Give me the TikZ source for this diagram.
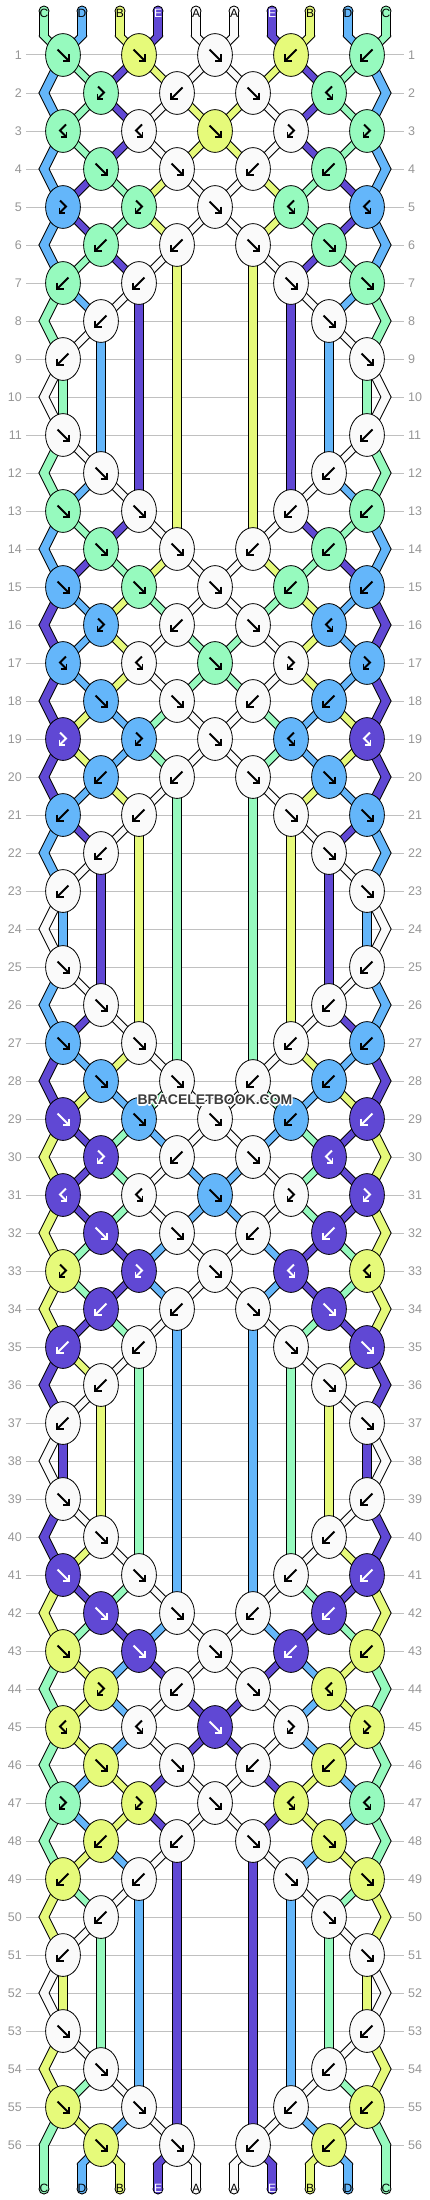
\documentclass[tikz,border=0pt]{standalone}
\usepackage{fontspec}
\setmainfont{Liberation Sans}
\usetikzlibrary{shapes.geometric}
\definecolor{colA}{RGB}{250,250,250}
\definecolor{colB}{RGB}{230,250,122}
\definecolor{colC}{RGB}{150,250,190}
\definecolor{colD}{RGB}{100,182,250}
\definecolor{colE}{RGB}{96,72,212}
\definecolor{gridgray}{RGB}{192,192,192}
\definecolor{numgray}{RGB}{150,150,150}
\definecolor{wmgray}{RGB}{60,60,60}
\def\setrc#1#2{\expandafter\def\csname rc#1\endcsname{#2}}
\setrc{1}{F,F,F,B,B}
\setrc{2}{f,B,F,b}
\setrc{3}{b,b,F,f,f}
\setrc{4}{F,F,B,B}
\setrc{5}{f,f,F,b,b}
\setrc{6}{B,B,F,F}
\setrc{7}{B,B,x,F,F}
\setrc{8}{B,x,x,F}
\setrc{9}{B,x,x,x,F}
\setrc{10}{x,x,x,x}
\setrc{11}{F,x,x,x,B}
\setrc{12}{F,x,x,B}
\setrc{13}{F,F,x,B,B}
\setrc{14}{F,F,B,B}
\def\setg#1#2{\expandafter\xdef\csname #1\endcsname{#2}}
\def\getg#1{\csname #1\endcsname}
\gdef\seglist{}
\gdef\knotlist{}
\def\appendpt#1#2#3{%
  \xdef\seglist{\seglist\seg{\getg{LX#1}}{\getg{LY#1}}{#2}{#3}{\getg{Col#1}}}%
  \setg{LX#1}{#2}\setg{LY#1}{#3}}
\def\glyphF{\draw[\gcol] (-5.5,-5.5) -- (5,5); \draw[\gcol,line join=miter] (6,-0.5) -- (6,6) -- (-0.5,6);}
\def\glyphB{\draw[\gcol] (5.5,-5.5) -- (-5,5); \draw[\gcol,line join=miter] (-6,-0.5) -- (-6,6) -- (0.5,6);}
\def\glyphf{\draw[\gcol,line join=miter] (-3,-6.5) -- (3,-0.5) -- (-3,5.5); \draw[\gcol,line join=miter] (-3.5,0.5) -- (-3.5,6) -- (2,6);}
\def\glyphb{\draw[\gcol,line join=miter] (3,-6.5) -- (-3,-0.5) -- (3,5.5); \draw[\gcol,line join=miter] (3.5,0.5) -- (3.5,6) -- (-2,6);}
\begin{document}
\begin{tikzpicture}[x=1pt,y=-1pt,
  knotshape/.style={ellipse, draw=black, line width=0.8pt, minimum width=34.8pt, minimum height=42.8pt, inner sep=0pt},
  numstyle/.style={text=numgray, font=\fontsize{12.5}{12.5}\selectfont, inner sep=0pt},
  labstyle/.style={font=\fontsize{12}{12}\selectfont, inner sep=0pt, anchor=base},
  wm/.style={font=\bfseries\fontsize{14}{14}\selectfont, inner sep=0pt},
  gridline/.style={draw=gridgray, line width=1pt}]
\useasboundingbox (0,0) rectangle (430,2200);
\fill[white] (0,0) rectangle (430,2200);
\foreach \rr in {1,...,56}{%
  \pgfmathtruncatemacro\yy{17+38*\rr}%
  \draw[gridline] (26,\yy) -- (404,\yy);
  \node[numstyle, anchor=east] (ln\rr) at (22,\yy) {\rr};
  \node[numstyle, anchor=west] (rn\rr) at (408,\yy) {\rr};
}
\let\seg\relax \let\scap\relax \let\knotcmd\relax
\foreach \ii/\lt in {0/C,1/D,2/B,3/E,4/A,5/A,6/E,7/B,8/D,9/C}{%
  \pgfmathtruncatemacro\xx{44+38*\ii}%
  \setg{P\ii}{\ii}\setg{Col\ii}{col\lt}\setg{Lab\ii}{\lt}%
  \setg{LX\ii}{\xx}\setg{LY\ii}{11}\setg{RX\ii}{\xx}%
  \xdef\seglist{\seglist\scap{\xx}{11}{col\lt}}%
  \appendpt{\ii}{\xx}{36}%
}
\foreach \rr in {1,...,56}{%
  \pgfmathtruncatemacro\mm{mod(\rr-1,14)+1}%
  \pgfmathtruncatemacro\yy{17+38*\rr}%
  \pgfmathtruncatemacro\isodd{mod(\rr,2)}%
  \ifnum\isodd=0\relax
    \edef\sid{\getg{P0}}\appendpt{\sid}{44}{\yy}%
    \edef\sid{\getg{P9}}\appendpt{\sid}{386}{\yy}%
  \fi
  \edef\code{\getg{rc\mm}}%
  \foreach \cd [count=\kk from 0] in \code {%
    \ifnum\isodd=1\relax
      \pgfmathtruncatemacro\pp{2*\kk}\pgfmathtruncatemacro\qq{2*\kk+1}\pgfmathtruncatemacro\kx{63+76*\kk}%
    \else
      \pgfmathtruncatemacro\pp{2*\kk+1}\pgfmathtruncatemacro\qq{2*\kk+2}\pgfmathtruncatemacro\kx{101+76*\kk}%
    \fi
    \edef\Ls{\getg{P\pp}}\edef\Rs{\getg{P\qq}}%
    \if\cd x%
      \appendpt{\Ls}{\getg{RX\pp}}{\yy}%
      \appendpt{\Rs}{\getg{RX\qq}}{\yy}%
    \else
      \appendpt{\Ls}{\kx}{\yy}\appendpt{\Rs}{\kx}{\yy}%
      \setg{RX\pp}{\kx}\setg{RX\qq}{\kx}%
      \if\cd F\edef\kc{\getg{Col\Ls}}\setg{P\pp}{\Rs}\setg{P\qq}{\Ls}\fi
      \if\cd B\edef\kc{\getg{Col\Rs}}\setg{P\pp}{\Rs}\setg{P\qq}{\Ls}\fi
      \if\cd f\edef\kc{\getg{Col\Ls}}\fi
      \if\cd b\edef\kc{\getg{Col\Rs}}\fi
      \xdef\knotlist{\knotlist\knotcmd{\kx}{\yy}{\kc}{\cd}{\rr-\kk}}%
    \fi
  }%
}
\foreach \pp in {0,...,9}{%
  \pgfmathtruncatemacro\xx{44+38*\pp}%
  \edef\sid{\getg{P\pp}}%
  \appendpt{\sid}{\xx}{2164}\appendpt{\sid}{\xx}{2189}%
  \xdef\seglist{\seglist\scap{\xx}{2189}{\getg{Col\sid}}}%
  \setg{BotLab\pp}{\getg{Lab\sid}}\setg{BotCol\pp}{\getg{Col\sid}}%
}
% string outlines
\def\seg#1#2#3#4#5{\filldraw[black,line width=2pt,line join=round] (#1-4.4,#2) -- (#3-4.4,#4) -- (#3+4.4,#4) -- (#1+4.4,#2) -- cycle;}
\def\scap#1#2#3{\filldraw[black,line width=2pt] (#1,#2) circle[radius=4.4pt];}
\seglist
% string fills
\def\seg#1#2#3#4#5{\fill[#5] (#1-4.4,#2) -- (#3-4.4,#4) -- (#3+4.4,#4) -- (#1+4.4,#2) -- cycle;}
\def\scap#1#2#3{\fill[#3] (#1,#2) circle[radius=4.4pt];}
\seglist
% knots
\def\knotcmd#1#2#3#4#5{%
  \node[knotshape, fill=#3] (k#5) at (#1,#2) {};
  \def\tmpa{#3}\def\tmpb{colE}%
  \ifx\tmpa\tmpb\def\gcol{white}\else\def\gcol{black}\fi
  \begin{scope}[shift={(#1,#2)}, line width=1.9pt]
    \csname glyph#4\endcsname
  \end{scope}}
\knotlist
% string labels
\foreach \pp in {0,...,9}{%
  \pgfmathtruncatemacro\xx{44+38*\pp}%
  \edef\lt{\getg{Lab\pp}}\edef\tc{\getg{Col\pp}}%
  \def\tmpb{colE}%
  \ifx\tc\tmpb\def\tcol{white}\else\def\tcol{black}\fi
  \node[labstyle, text=\tcol] (tl\pp) at (\xx,17.3) {\lt};
  \edef\lt{\getg{BotLab\pp}}\edef\tc{\getg{BotCol\pp}}%
  \ifx\tc\tmpb\def\tcol{white}\else\def\tcol{black}\fi
  \node[labstyle, text=\tcol] (bl\pp) at (\xx,2192.5) {\lt};
}
% watermark
\foreach \dx/\dy [count=\nn] in {-1.2/0,1.2/0,0/-1.2,0/1.2,-0.9/-0.9,0.9/0.9,-0.9/0.9,0.9/-0.9}{%
  \node[wm, text=white] (wmh\nn) at (215+\dx,1100+\dy) {BRACELETBOOK.COM};
}
\node[wm, text=wmgray] (wmark) at (215,1100) {BRACELETBOOK.COM};
\end{tikzpicture}
\end{document}
